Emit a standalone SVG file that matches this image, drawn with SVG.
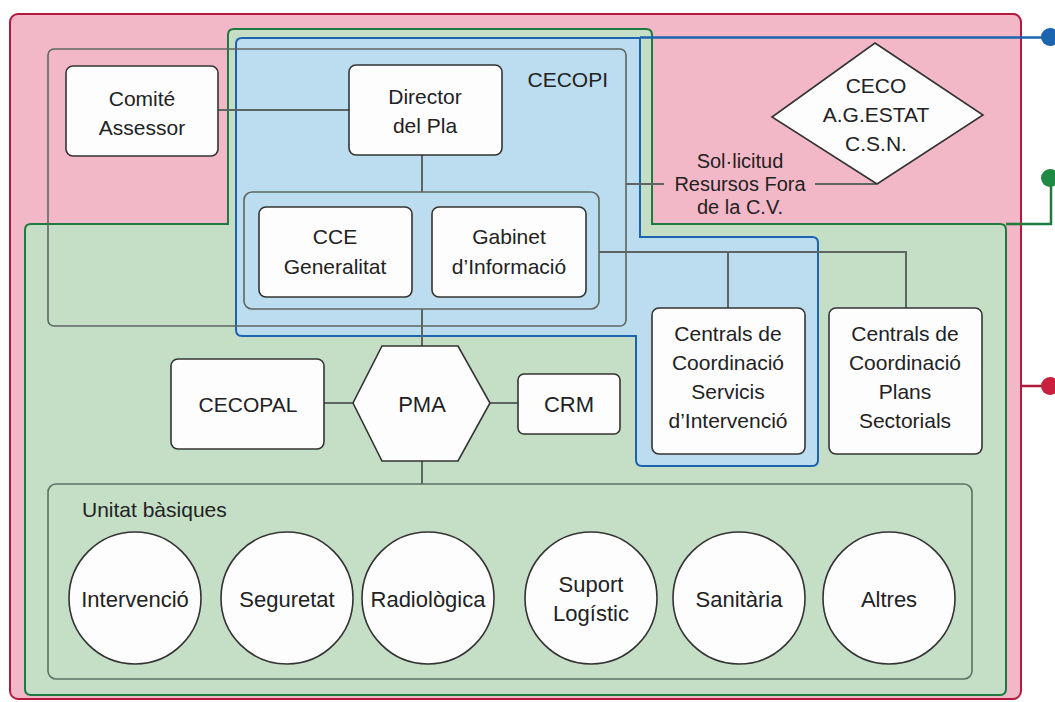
<svg xmlns="http://www.w3.org/2000/svg" width="1055" height="702" viewBox="0 0 1055 702">
<style>
  text{font-family:"Liberation Sans","Open Sans",Arial,sans-serif;fill:#222;font-size:21px;text-anchor:middle}
  .box{fill:#fdfdfd;stroke:#333;stroke-width:1.6}
  .grp{fill:none;stroke:#5d6663;stroke-width:1.6}
  .ln{fill:none;stroke:#5d6663;stroke-width:2}
  .c{font-size:22px}
</style>
<rect width="1055" height="702" fill="#ffffff"/>
<g id="zone-red">
  <rect x="10" y="14" width="1011" height="685" rx="8" fill="#f3b8c7" stroke="#b3193d" stroke-width="2"/>
</g>
<g id="zone-green">
  <path d="M234,29 H646 Q652,29 652,35 V224 H1000 Q1006,224 1006,230 V689 Q1006,695 1000,695 H31 Q25,695 25,689 V230 Q25,224 31,224 H228 V35 Q228,29 234,29 Z" fill="#c5dfc6" stroke="#1e7a40" stroke-width="2"/>
</g>
<g id="zone-blue">
  <path d="M242,38 H640 V237 H812 Q818,237 818,243 V460 Q818,466 812,466 H642 Q636,466 636,460 V336 H242 Q236,336 236,330 V44 Q236,38 242,38 Z" fill="#bcdcef" stroke="#1c63b0" stroke-width="2"/>
</g>
<g id="cecopi">
  <rect class="grp" x="48" y="49" width="578" height="277" rx="6"/>
  <text x="608" y="87" style="text-anchor:end">CECOPI</text>
</g>
<g id="cecopi-inner">
  <rect class="grp" x="244" y="192" width="355" height="117" rx="8"/>
</g>
<g id="unitats-group">
  <rect x="48" y="484" width="924" height="195" rx="8" fill="none" stroke="#5a7262" stroke-width="1.6"/>
  <text x="82" y="517" style="text-anchor:start">Unitat bàsiques</text>
</g>
<g id="connectors">
  <path class="ln" d="M218,110 H349"/>
  <path class="ln" d="M422,155 V192"/>
  <path class="ln" d="M422,309 V346"/>
  <path class="ln" d="M422,461 V484"/>
  <path class="ln" d="M324,403 H353"/>
  <path class="ln" d="M490,403 H518"/>
  <path class="ln" d="M599,252 H906 V308"/>
  <path class="ln" d="M728,252 V308"/>
  <path class="ln" d="M626,184 H664"/>
  <path class="ln" d="M815,184 H876"/>
  <path d="M640,37.5 H1049" fill="none" stroke="#1c63b0" stroke-width="2.5"/>
  <path d="M1006,224 H1051 V178" fill="none" stroke="#1e7a40" stroke-width="2.5"/>
  <path d="M1021,386 H1050" fill="none" stroke="#b3193d" stroke-width="2.5"/>
  <circle cx="1050" cy="37" r="9" fill="#1c63b0"/>
  <circle cx="1050" cy="178" r="9" fill="#1e8a44"/>
  <circle cx="1050" cy="386" r="9" fill="#c8203f"/>
  <text x="740" y="168" style="font-size:20px">Sol·licitud</text>
  <text x="740" y="191" style="font-size:20px">Resursos Fora</text>
  <text x="740" y="214" style="font-size:20px">de la C.V.</text>
</g>
<g id="comite">
  <rect class="box" x="66" y="66" width="152" height="90" rx="7"/>
  <text x="142" y="106">Comité</text>
  <text x="142" y="135">Assessor</text>
</g>
<g id="director">
  <rect class="box" x="349" y="65" width="153" height="90" rx="7"/>
  <text x="425" y="104">Director</text>
  <text x="425" y="133">del Pla</text>
</g>
<g id="ceco">
  <polygon points="875,43 983,115 877,184 772,117" fill="#fdfdfd" stroke="#333" stroke-width="1.6"/>
  <text x="876" y="93">CECO</text>
  <text x="876" y="122">A.G.ESTAT</text>
  <text x="876" y="151">C.S.N.</text>
</g>
<g id="cce">
  <rect class="box" x="259" y="207" width="153" height="90" rx="7"/>
  <text x="335" y="244">CCE</text>
  <text x="335" y="274">Generalitat</text>
</g>
<g id="gabinet">
  <rect class="box" x="432" y="207" width="154" height="90" rx="7"/>
  <text x="509" y="244">Gabinet</text>
  <text x="509" y="274">d’Informació</text>
</g>
<g id="centrals-servicis">
  <rect class="box" x="652" y="308" width="153" height="146" rx="7"/>
  <text x="728" y="341">Centrals de</text>
  <text x="728" y="370">Coordinació</text>
  <text x="728" y="399">Servicis</text>
  <text x="728" y="428">d’Intervenció</text>
</g>
<g id="centrals-plans">
  <rect class="box" x="829" y="308" width="153" height="146" rx="7"/>
  <text x="905" y="341">Centrals de</text>
  <text x="905" y="370">Coordinació</text>
  <text x="905" y="399">Plans</text>
  <text x="905" y="428">Sectorials</text>
</g>
<g id="cecopal">
  <rect class="box" x="171" y="359" width="153" height="90" rx="7"/>
  <text x="248" y="412">CECOPAL</text>
</g>
<g id="pma">
  <polygon points="382,346 458,346 490,403 458,461 382,461 353,403" fill="#fdfdfd" stroke="#333" stroke-width="1.6"/>
  <text x="422" y="412" class="c">PMA</text>
</g>
<g id="crm">
  <rect class="box" x="518" y="374" width="102" height="60" rx="6"/>
  <text x="569" y="412" class="c">CRM</text>
</g>
<g id="u-intervencio">
  <circle class="box" cx="135" cy="598" r="66"/>
  <text x="135" y="607" class="c">Intervenció</text>
</g>
<g id="u-seguretat">
  <circle class="box" cx="287" cy="598" r="66"/>
  <text x="287" y="607" class="c">Seguretat</text>
</g>
<g id="u-radiologica">
  <circle class="box" cx="428" cy="598" r="66"/>
  <text x="428" y="607" class="c">Radiològica</text>
</g>
<g id="u-suport">
  <circle class="box" cx="591" cy="598" r="66"/>
  <text x="591" y="592" class="c">Suport</text>
  <text x="591" y="621" class="c">Logístic</text>
</g>
<g id="u-sanitaria">
  <circle class="box" cx="739" cy="598" r="66"/>
  <text x="739" y="607" class="c">Sanitària</text>
</g>
<g id="u-altres">
  <circle class="box" cx="889" cy="598" r="66"/>
  <text x="889" y="607" class="c">Altres</text>
</g>
</svg>
